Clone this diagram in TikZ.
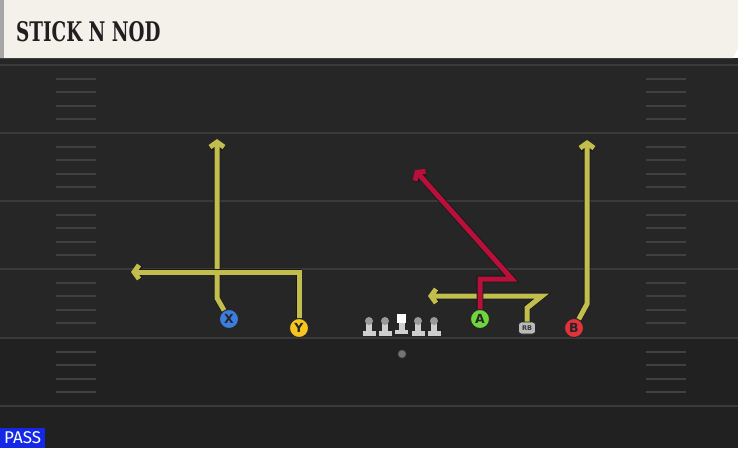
\documentclass[tikz,border=0pt]{standalone}
\usepackage{graphicx}
\usepackage{fontspec}
\newfontfamily\titlefont{DejaVu Serif}
\newfontfamily\markfont{DejaVu Sans}
\newfontfamily\tagfont{Fira Sans}
\usetikzlibrary{arrows.meta}

\definecolor{fieldtop}{HTML}{262626}
\definecolor{fieldbot}{HTML}{212121}
\definecolor{yardline}{HTML}{3A3A3A}
\definecolor{hashmark}{HTML}{404040}
\definecolor{header}{HTML}{F4F1EA}
\definecolor{routeyel}{HTML}{C2BE4E}
\definecolor{routered}{HTML}{B8103A}
\definecolor{xblue}{HTML}{3C7DE0}
\definecolor{yyellow}{HTML}{F6C520}
\definecolor{agreen}{HTML}{70D43C}
\definecolor{bred}{HTML}{E2323C}
\definecolor{passblue}{HTML}{1428E6}
\definecolor{lmbody}{HTML}{CFCFCF}
\definecolor{lmhead}{HTML}{9A9A9A}

\tikzset{
  player/.style={circle, draw=black!85, line width=0.9pt, minimum size=19pt,
    inner sep=0pt, font=\markfont\bfseries\fontsize{12.5}{12.5}\selectfont, text=black!85},
  route/.style={line width=5pt, line cap=butt,
    preaction={draw=black!90, line width=6.6pt},
    -{Straight Barb[length=5pt,width=14pt]}},
}

\begin{document}
\begin{tikzpicture}[x=1pt, y=-1pt]
    \useasboundingbox (0,0) rectangle (738,448);
    % field
    \fill[fieldtop] (0,58) rectangle (738,338);
    \fill[fieldbot] (0,338) rectangle (738,448);
    \fill[black!85] (0,58) rectangle (738,64);
    % yard lines
    \foreach \y in {65,133,201,269,338,406}
    \draw[yardline, line width=2.2pt] (0,\y) -- (738,\y);
    % hash marks
    \foreach \y in {65,133,201,269,338}
    \foreach \k in {1,...,4} {
      \draw[hashmark, line width=2pt] (56,{\y+13.6*\k}) -- (96,{\y+13.6*\k});
      \draw[hashmark, line width=2pt] (646,{\y+13.6*\k}) -- (686,{\y+13.6*\k});
    }
    % header
    \fill[header] (0,0) -- (738,0) -- (738,48) -- (733,58) -- (0,58) -- cycle;
    \fill[black!35] (0,0) rectangle (4,58);
    \node[anchor=west, inner sep=0pt, text=black!88] (title) at (16,32)
    {\scalebox{0.68}[1]{\titlefont\bfseries\fontsize{27}{27}\selectfont STICK N NOD}};
    % play tag
    \node[fill=passblue, anchor=south west, inner sep=0pt, minimum width=45pt,
      minimum height=20pt, text=white, font=\tagfont\fontsize{17}{17}\selectfont]
      (tag) at (0,448) {PASS};
    % main coordinates
    \coordinate (x-bend) at (217,298);
    \coordinate (x-end)  at (217,139);
    \coordinate (y-turn) at (299,272);
    \coordinate (y-end)  at (131,272);
    \coordinate (a-up)   at (480,279);
    \coordinate (a-turn) at (512,279);
    \coordinate (a-end)  at (415,170);
    \coordinate (rb-up)  at (527,308);
    \coordinate (rb-out) at (542,296);
    \coordinate (rb-end) at (428,296);
    \coordinate (b-bend) at (587,304);
    \coordinate (b-end)  at (587,140);
    % players
    \node[player, fill=xblue]   (X) at (229,319) {X};
    \node[player, fill=yyellow] (Y) at (299,328) {Y};
    \node[player, fill=agreen]  (A) at (480,319) {A};
    \node[player, fill=bred]    (B) at (574,328) {B};
    \node[draw=black!85, line width=0.7pt, fill=lmbody!90!black, rounded corners=3pt,
      minimum width=17pt, minimum height=12pt, inner sep=0pt, text=black!80,
      font=\markfont\bfseries\fontsize{6.5}{6.5}\selectfont] (RB) at (527,328) {RB};
    % routes
    \draw[route, routeyel] (X) -- (x-bend) -- (x-end);
    \draw[route, routeyel] (Y) -- (y-turn) -- (y-end);
    \draw[route, routeyel] (RB) -- (rb-up) -- (rb-out) -- (rb-end);
    \draw[route, routeyel] (B) -- (b-bend) -- (b-end);
    \draw[route, routered] (A) -- (a-up) -- (a-turn) -- (a-end);
    % offensive line
    \foreach \lx in {369,385,418,434} {
      \fill[lmbody] (\lx-3,321) rectangle (\lx+3,332);
      \fill[lmbody] (\lx-6.5,331) rectangle (\lx+6.5,336);
      \fill[lmhead] (\lx,321) circle (4pt);
    }
    \fill[lmbody] (399,322) rectangle (405,331);
    \fill[lmbody] (395,330) rectangle (408,334);
    \fill[white] (397,314) rectangle (406,323);
    % ball
    \fill[black!55, draw=black!70, line width=0.5pt] (402,354) circle (4pt);
\end{tikzpicture}
\end{document}
